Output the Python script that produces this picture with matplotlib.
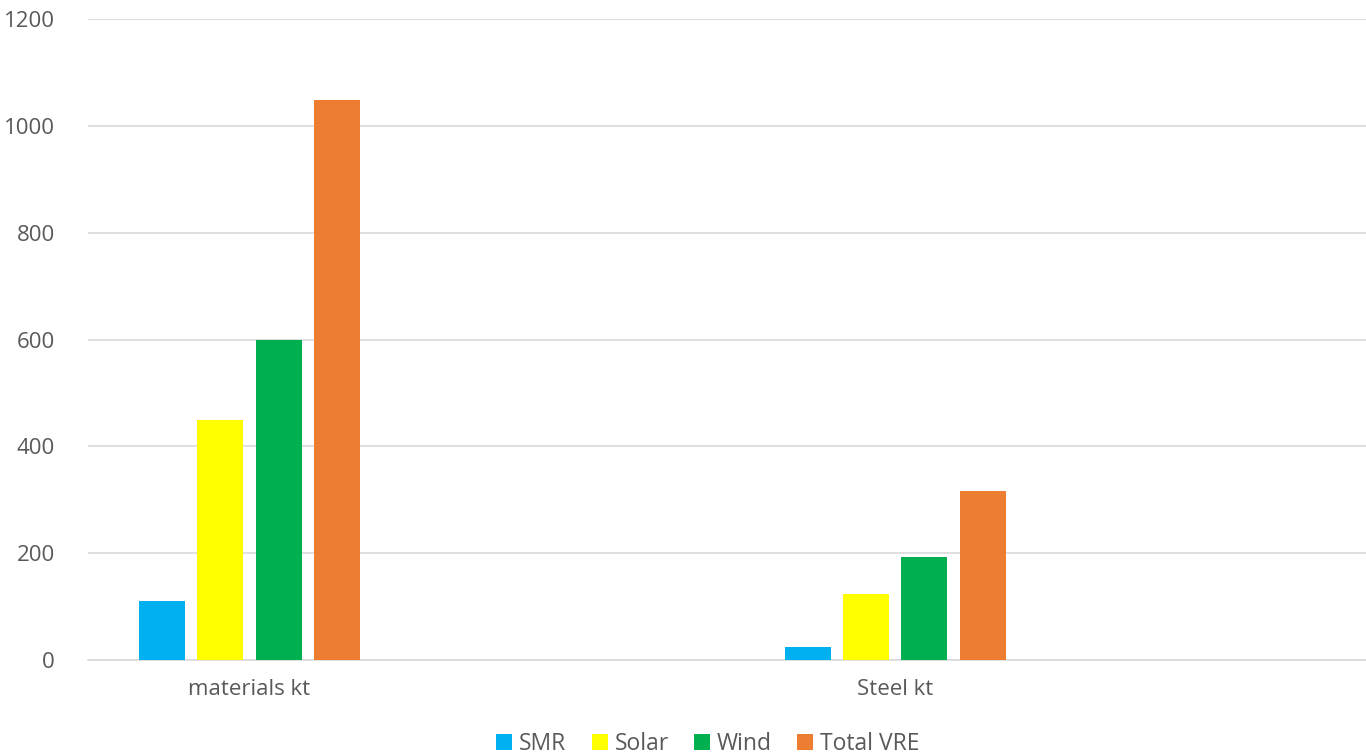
import numpy as np
import matplotlib.pyplot as plt

categories = ["materials kt", "Steel kt"]
series = ["SMR", "Solar", "Wind", "Total VRE"]
smr = [110, 24]
solar = [450, 124]
wind = [600, 192]
total_vre = [1048, 316]
colors = ["#00B0F0", "#FFFF00", "#00B050", "#ED7D31"]

plt.rcParams['font.family'] = ['Open Sans', 'DejaVu Sans']
text_color = "#595959"
grid_color = "#D9D9D9"

fig = plt.figure(figsize=(13.66, 7.56), dpi=100)
ax = fig.add_axes([88 / 1366, 1 - 660 / 756, 1 - 88 / 1366, (660 - 19) / 756])

# categories sit in every other slot, like the original sheet
x = np.arange(len(categories)) * 2
width = 0.1425
step = 0.181
for i, (name, vals) in enumerate(zip(series, [smr, solar, wind, total_vre])):
    ax.bar(x + (i - 1.5) * step, vals, width, color=colors[i], label=name, zorder=3)

ax.set_ylim(0, 1200)
ax.set_xlim(-0.5, (1366 - 87.5) / 323 - 0.5)
ax.set_yticks(range(0, 1201, 200))
ax.set_xticks(x)
ax.set_xticklabels(categories)
ax.yaxis.grid(True, color=grid_color, linewidth=1.2, zorder=0)
for s in ["top", "right", "left"]:
    ax.spines[s].set_visible(False)
ax.spines["bottom"].set_color(grid_color)
ax.spines["bottom"].set_linewidth(1.2)
ax.tick_params(axis="both", length=0, labelsize=16, colors=text_color)
ax.tick_params(axis="y", pad=24)
ax.tick_params(axis="x", pad=14)

fig.legend(loc="center", bbox_to_anchor=(708 / 1366, 1 - 744 / 756), ncol=4,
           frameon=False, fontsize=16.5, labelcolor=text_color,
           handlelength=0.7, handleheight=0.7, handletextpad=0.3, columnspacing=1.1)

fig.savefig("out.png", dpi=100)
